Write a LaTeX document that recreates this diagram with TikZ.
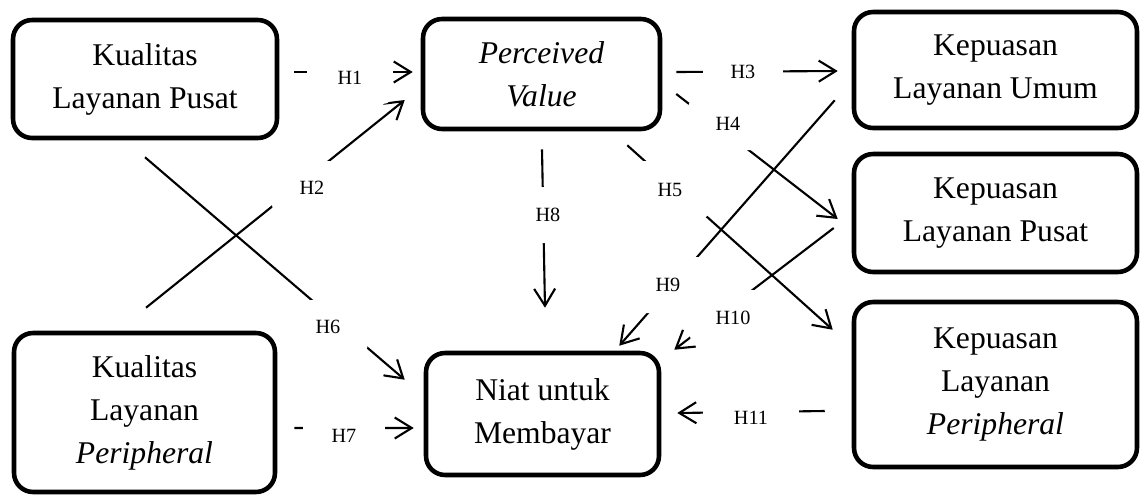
\documentclass[tikz,border=0pt]{standalone}
\usepackage{fontspec}
\setmainfont{Liberation Serif}
\usetikzlibrary{calc}
\usetikzlibrary{arrows.meta}

\begin{document}
\begin{tikzpicture}[x=0.02cm,y=-0.02cm,
  box/.style={draw,line width=2.6pt,rounded corners=0.38cm,align=center,inner sep=2pt,font=\fontsize{18}{24.5}\selectfont},
  hyp/.style={fill=white,rounded corners=0.2cm,inner sep=0pt,minimum width=1.6cm,minimum height=1.08cm,font=\fontsize{11.5}{14}\selectfont},
  arr/.style={line width=1.2pt,-{Straight Barb[length=0.34cm,width=0.42cm]}}]

\useasboundingbox (0,0) rectangle (1144,495);

\node[box,minimum width=5.28cm,minimum height=2.36cm] (klp) at (145,79) {Kualitas\\Layanan Pusat};
\node[box,minimum width=5.22cm,minimum height=3.18cm] (klpe) at (144.5,412.5) {Kualitas\\Layanan\\\textit{Peripheral}};
\node[box,minimum width=4.74cm,minimum height=2.2cm] (pv) at (541.5,74) {\textit{Perceived}\\\textit{Value}};
\node[box,minimum width=4.66cm,minimum height=2.44cm] (nm) at (542.5,414) {Niat untuk\\Membayar};
\node[box,minimum width=5.66cm,minimum height=2.32cm] (klu) at (995.5,70) {Kepuasan\\Layanan Umum};
\node[box,minimum width=5.66cm,minimum height=2.36cm] (klpu) at (995.5,213) {Kepuasan\\Layanan Pusat};
\node[box,minimum width=5.66cm,minimum height=3.3cm] (klpr) at (995.5,384.5) {Kepuasan\\Layanan\\\textit{Peripheral}};

% hipotesis
\draw[arr] ($(klp.east)+(15,-7)$) -- ($(pv.west)+(-8,-2)$);
\draw[arr] ($(klpe.north)+(1.5,-23)$) -- ($(pv.west)+(-16,26)$);
\draw[arr] ($(pv.east)+(14,-2)$) -- ($(klu.west)+(-14,1)$);
\draw[arr] ($(pv.east)+(14,20)$) -- ($(klpu.west)+(-14,6)$);
\draw[arr] ($(pv.south east)+(-35,14)$) -- ($(klpr.north west)+(-19,30)$);
\draw[arr] ($(klp.south)+(0,17)$) -- ($(nm.north west)+(-19,29)$);
\draw[arr] ($(klpe.east)+(17,15.5)$) -- ($(nm.west)+(-10,14)$);
\draw[arr] ($(pv.south)+(0.5,18)$) -- ($(nm.north)+(2.5,-43)$);
\draw[arr] ($(klu.south west)+(-17,-30)$) -- ($(nm.north east)+(-42,-5)$);
\draw[arr] ($(klpu.west)+(-18,15)$) -- ($(nm.north east)+(13,-1)$);
\draw[arr] ($(klpr.west)+(-27,26.5)$) -- ($(nm.east)+(16,-1)$);

\node[hyp,minimum width=1.72cm,minimum height=1.04cm] (h1) at (350,78) {H1};
\node[hyp] (h2) at (312,188) {H2};
\node[hyp] (h3) at (743,72) {H3};
\node[hyp,minimum height=1.04cm] (h4) at (728,124) {H4};
\node[hyp,minimum height=1.16cm] (h5) at (670,190) {H5};
\node[hyp] (h6) at (328,327) {H6};
\node[hyp,minimum width=1.64cm] (h7) at (344,436) {H7};
\node[hyp,minimum width=1.52cm,minimum height=1.12cm] (h8) at (548,215) {H8};
\node[hyp,minimum height=1.12cm] (h9) at (668,285) {H9};
\node[hyp,minimum width=1.72cm,minimum height=1.12cm] (h10) at (733,318) {H10};
\node[hyp,minimum width=1.92cm,minimum height=1.04cm] (h11) at (751,418) {H11};

\end{tikzpicture}
\end{document}
